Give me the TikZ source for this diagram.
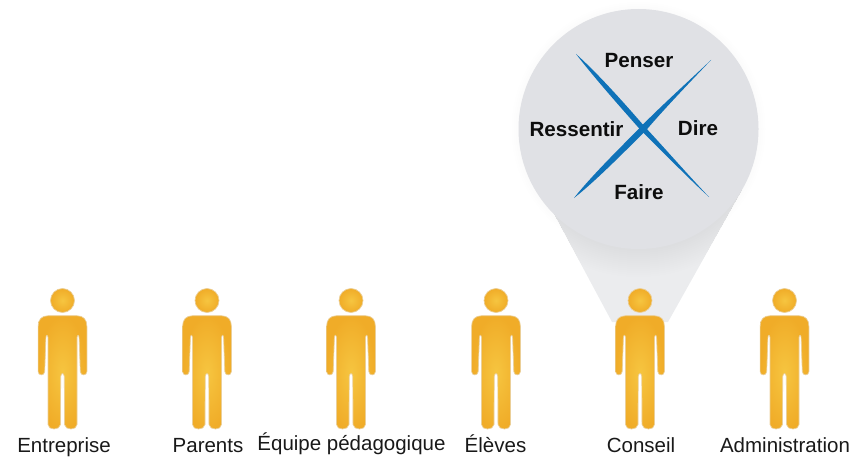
\documentclass[tikz,border=0pt]{standalone}
\usepackage{fontspec}
\setmainfont{Liberation Sans}
\definecolor{bubble}{HTML}{E0E1E5}
\definecolor{beam}{HTML}{EBECEE}
\definecolor{crossblue}{HTML}{0F72B8}
\definecolor{goldlight}{HTML}{F6C540}
\definecolor{golddark}{HTML}{F0AC28}
\definecolor{rim}{HTML}{EBCF98}
\tikzset{
  figure/.style={inner color=goldlight,outer color=golddark,draw=rim,line width=.7pt},
  caption/.style={font=\fontsize{20.5}{22}\selectfont,text=black!90,inner sep=0pt,anchor=base},
  inlabel/.style={font=\fontsize{20.6}{22}\bfseries\selectfont,text=black!95,inner sep=0pt,anchor=base},
  person/.pic={
    \path[figure] (0,-129) circle (12);
    \path[figure] (-14,-113.8) -- (14,-113.8)
       .. controls (21,-113.8) and (24.4,-110) .. (24.4,-103)
       -- (24.4,-58) .. controls (24.4,-53.5) and (18,-53.5) .. (17.8,-58)
       -- (16.6,-92) .. controls (16.4,-95) and (14.8,-95) .. (14.5,-92)
       -- (14.5,-5) .. controls (14.5,1) and (2.6,1) .. (2,-5)
       -- (1.8,-53) .. controls (1.4,-57) and (-1.4,-57) .. (-1.8,-53)
       -- (-2,-5) .. controls (-2.6,1) and (-14.5,1) .. (-14.5,-5)
       -- (-14.5,-92) .. controls (-14.8,-95) and (-16.4,-95) .. (-16.6,-92)
       -- (-17.8,-58) .. controls (-18,-53.5) and (-24.4,-53.5) .. (-24.4,-58)
       -- (-24.4,-103) .. controls (-24.4,-110) and (-21,-113.8) .. (-14,-113.8) -- cycle;
  }
}
\begin{document}
\begin{tikzpicture}[x=1pt,y=-1pt]
\useasboundingbox (0,0) rectangle (853,457);
% soft halo round the bubble
\foreach \r in {127,125,123,121}{
  \fill[black,opacity=.004] (638.5,129) circle (\r);
}
% beam
\fill[beam] (553,212) -- (612,322) -- (668,322) -- (742,190) -- cycle;
\begin{scope}
  \clip (553,212) -- (612,322) -- (668,322) -- (742,190) -- cycle;
  \foreach \r in {148,146,144,142,140,138,136,134,132,130,128,126,124,122}{
    \fill[black,opacity=.004] (638.5,129) circle (\r);
  }
\end{scope}
% bubble
\fill[bubble] (638.5,129) circle (120);
% cross
\fill[crossblue] (576,54) .. controls (598,73.5) and (625,104) .. (645,127)
  .. controls (660,143) and (690,177) .. (709,197)
  .. controls (688,178) and (657,146) .. (641,130.5)
  .. controls (622,109) and (594,77.5) .. cycle;
\fill[crossblue] (574,198) .. controls (592,175) and (625,143) .. (641,126.5)
  .. controls (660,107) and (692,78) .. (711,60)
  .. controls (694,78) and (664,109) .. (645.5,131)
  .. controls (628,148) and (597,180) .. cycle;
% labels in bubble
\node[inlabel] (penser) at (639,68) {Penser};
\node[inlabel] (ressentir) at (576.5,137) {Ressentir};
\node[inlabel] (dire) at (698,136) {Dire};
\node[inlabel] (faire) at (639,199) {Faire};
% figures
\pic at (62.5,429.5) {person};
\pic at (207,429.5) {person};
\pic at (351,429.5) {person};
\pic at (496,429.5) {person};
\pic at (640,429.5) {person};
\pic at (784.5,429.5) {person};
% captions
\node[caption] (entreprise) at (64,452) {Entreprise};
\node[caption] (parents) at (208,452) {Parents};
\node[caption] (equipe) at (351.5,450) {Équipe pédagogique};
\node[caption] (eleves) at (495.5,452) {Élèves};
\node[caption] (conseil) at (641,452) {Conseil};
\node[caption] (admin) at (785,452) {Administration};
\end{tikzpicture}
\end{document}
